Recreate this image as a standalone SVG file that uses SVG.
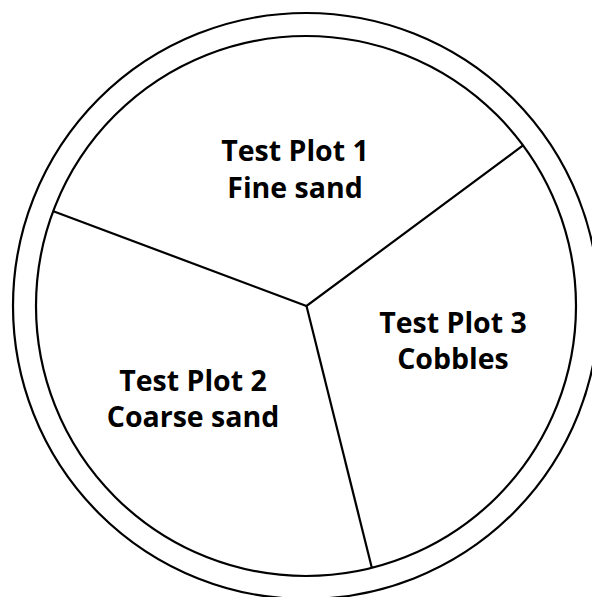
<svg xmlns="http://www.w3.org/2000/svg" width="592" height="597" viewBox="0 0 592 597">
<style>
.ring{fill:none;stroke:#000;stroke-width:2.2}
.div{fill:none;stroke:#000;stroke-width:2.2;stroke-linejoin:miter}
.lbl{font-family:"Open Sans","Noto Sans","Liberation Sans",sans-serif;font-weight:bold;font-size:28.5px;fill:#000;text-anchor:middle}
</style>
<rect width="592" height="597" fill="#fff"/>
<g id="rings">
<circle class="ring" cx="306" cy="306" r="293"/>
<circle class="ring" cx="306" cy="306" r="270"/>
</g>
<g id="connectors">
<polyline class="div" points="52.7,211 306.5,306 522.7,145.7"/>
<line class="div" x1="306.5" y1="306" x2="371.7" y2="567.3"/>
</g>
<g id="plot1">
<text class="lbl" x="295" y="161">Test Plot 1</text>
<text class="lbl" x="295" y="198">Fine sand</text>
</g>
<g id="plot2">
<text class="lbl" x="193" y="391">Test Plot 2</text>
<text class="lbl" x="193" y="427">Coarse sand</text>
</g>
<g id="plot3">
<text class="lbl" x="453" y="333">Test Plot 3</text>
<text class="lbl" x="453" y="369">Cobbles</text>
</g>
</svg>
